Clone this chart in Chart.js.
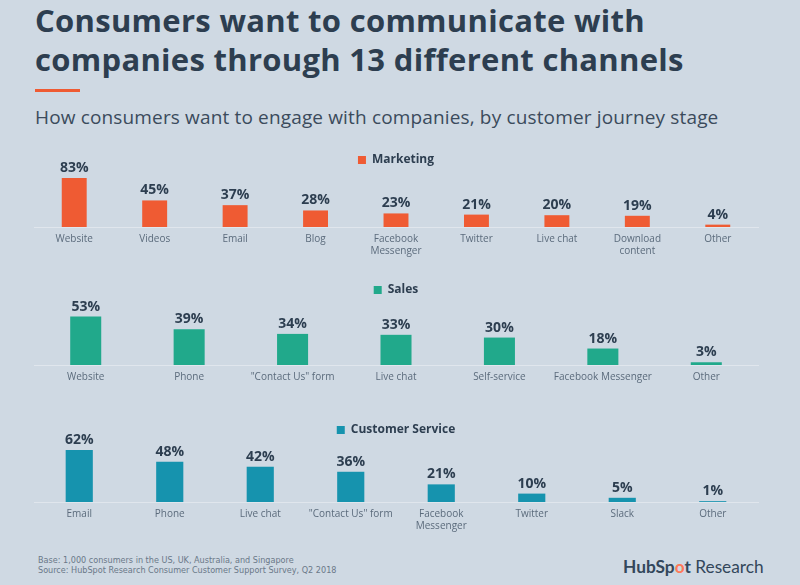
<!DOCTYPE html>
<html>
<head>
<meta charset="utf-8">
<script src="https://cdn.jsdelivr.net/npm/chart.js@4.4.1/dist/chart.umd.min.js"></script>
<style>
  body { margin: 0; width: 800px; height: 585px; background: #cfd9e3; overflow: hidden; position: relative; font-family: "Open Sans", sans-serif; }
  .title { position: absolute; left: 35px; top: 1px; font-weight: 700; font-size: 31px; letter-spacing: 0.3px; line-height: 39px; color: #2d3e50; white-space: nowrap; }
  .rule { position: absolute; left: 35px; top: 89px; width: 45px; height: 3px; background: #ef5b33; }
  .subtitle { position: absolute; left: 35px; top: 105px; font-size: 19px; letter-spacing: 0.15px; line-height: 24px; color: #3b4b5c; white-space: nowrap; }
  canvas { position: absolute; left: 0; }
  .note { position: absolute; left: 38px; top: 555px; font-family: "Liberation Sans Narrow", "DejaVu Sans Condensed", sans-serif; font-size: 9px; line-height: 10px; color: #6a7888; white-space: nowrap; }
  .brand { position: absolute; left: 623px; top: 557px; font-family: Lato, "Open Sans", sans-serif; font-size: 17.3px; line-height: 20px; color: #33475b; white-space: nowrap; }
  .brand b { font-weight: 700; }
  .brand .dot { color: #ff7a59; }
</style>
</head>
<body>
<div class="title">Consumers want to communicate with<br>companies through 13 different channels</div>
<div class="rule"></div>
<div class="subtitle">How consumers want to engage with companies, by customer journey stage</div>

<canvas id="marketingChart" width="800" height="117" style="top:146px"></canvas>
<canvas id="salesChart" width="800" height="113" style="top:276px"></canvas>
<canvas id="serviceChart" width="800" height="122" style="top:416px"></canvas>

<div class="note">Base: 1,000 consumers in the US, UK, Australia, and Singapore<br>Source: HubSpot Research Consumer Customer Support Survey, Q2 2018</div>
<div class="brand"><b>HubSp<span class="dot">o</span>t</b> Research</div>

<script>
// 채널별 데이터
const marketingLabels = ['Website', 'Videos', 'Email', 'Blog', ['Facebook', 'Messenger'], 'Twitter', 'Live chat', ['Download', 'content'], 'Other'];
const marketingValues = [83, 45, 37, 28, 23, 21, 20, 19, 4];

const salesLabels = ['Website', 'Phone', '"Contact Us" form', 'Live chat', 'Self-service', 'Facebook Messenger', 'Other'];
const salesValues = [53, 39, 34, 33, 30, 18, 3];

const serviceLabels = ['Email', 'Phone', 'Live chat', '"Contact Us" form', ['Facebook', 'Messenger'], 'Twitter', 'Slack', 'Other'];
const serviceValues = [62, 48, 42, 36, 21, 10, 5, 1];

Chart.defaults.font.family = '"Open Sans", sans-serif';

// 막대 위 퍼센트 표시
const valueLabels = {
  id: 'valueLabels',
  afterDatasetsDraw(chart) {
    const { ctx } = chart;
    const meta = chart.getDatasetMeta(0);
    const values = chart.data.datasets[0].data;
    ctx.save();
    ctx.font = '700 14px "Open Sans"';
    ctx.fillStyle = '#2d3e50';
    ctx.textAlign = 'center';
    ctx.textBaseline = 'alphabetic';
    meta.data.forEach((bar, i) => ctx.fillText(values[i] + '%', bar.x, bar.y - 6));
    ctx.restore();
  }
};

const renderChart = (id, name, labels, values, color, yMax, barPct) => {
  new Chart(document.getElementById(id), {
    type: 'bar',
    data: {
      labels: labels,
      datasets: [{
        label: name,
        data: values,
        backgroundColor: color,
        borderWidth: 0,
        categoryPercentage: 1,
        barPercentage: barPct
      }]
    },
    options: {
      responsive: false,
      animation: false,
      events: [],
      layout: { padding: { left: 34, right: 42, top: 0, bottom: 0 } },
      plugins: {
        legend: {
          labels: {
            boxWidth: 8,
            boxHeight: 8,
            padding: 8,
            color: '#2d3e50',
            font: { size: 12, weight: '700' }
          }
        },
        tooltip: { enabled: false }
      },
      scales: {
        x: {
          grid: { display: false, drawTicks: false },
          border: { display: true, color: 'rgba(255,255,255,0.35)', width: 1 },
          ticks: { color: '#5b6b7c', padding: 6, font: { size: 10 }, maxRotation: 0, autoSkip: false }
        },
        y: { display: false, min: 0, max: yMax }
      }
    },
    plugins: [valueLabels]
  });
};

renderChart('marketingChart', 'Marketing', marketingLabels, marketingValues, '#ef5b33', 86.4, 0.31);
renderChart('salesChart', 'Sales', salesLabels, salesValues, '#21a98b', 64.5, 0.30);
renderChart('serviceChart', 'Customer Service', serviceLabels, serviceValues, '#1693ae', 66.7, 0.30);
</script>
</body>
</html>
